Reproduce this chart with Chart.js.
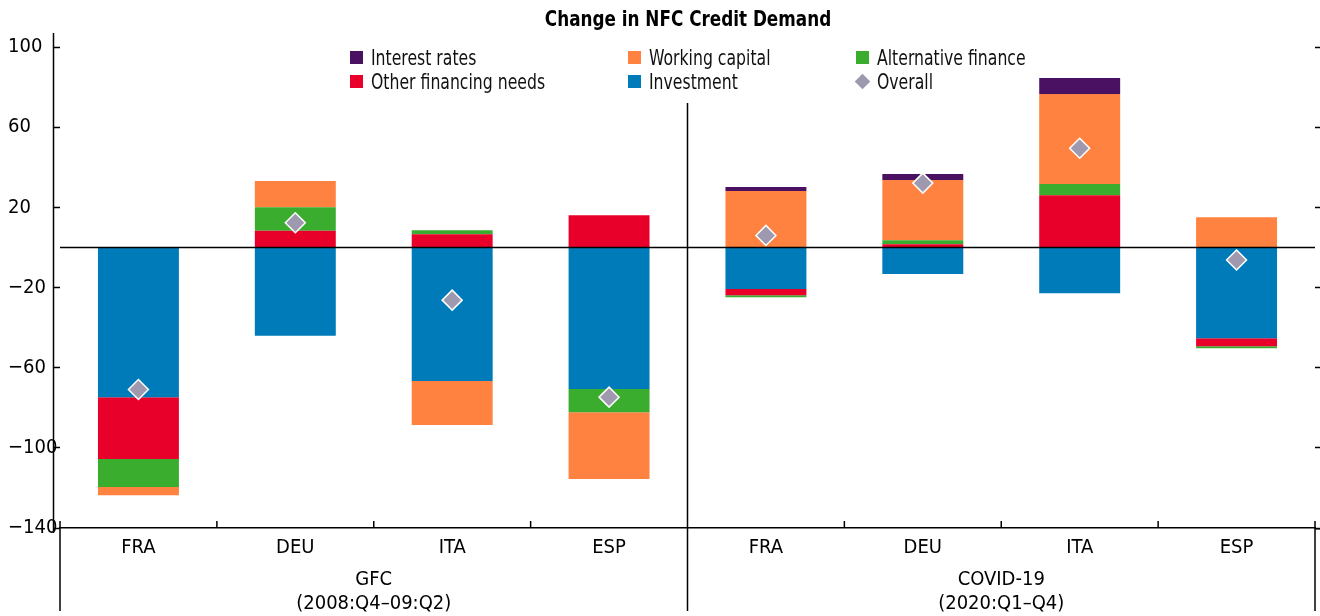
<!DOCTYPE html>
<html>
<head>
<meta charset="utf-8">
<script src="https://cdn.jsdelivr.net/npm/chart.js@4.4.1/dist/chart.umd.min.js"></script>
<style>
  html, body { margin: 0; padding: 0; background: #fff; }
  #wrap { position: relative; width: 1320px; height: 616px; overflow: hidden; }
  canvas { position: absolute; left: 0; top: 0; }
  .lg { position: absolute; font-family: "DejaVu Sans Condensed", "DejaVu Sans", sans-serif; font-stretch: condensed; font-size: 21px; color: #111; white-space: nowrap; line-height: 24px; height: 24px; }
  .lg .box { position: absolute; left: 0; top: 5px; width: 13px; height: 13px; }
  .lg .dia { position: absolute; left: 1px; top: 6px; width: 11px; height: 11px; transform: rotate(45deg); }
  .lg span.t { position: absolute; left: 21px; top: 0; transform: scaleX(0.83); transform-origin: 0 50%; }
  #title { position: absolute; top: 7px; font-family: "DejaVu Sans Condensed", "DejaVu Sans", sans-serif; font-stretch: condensed; font-weight: bold; font-size: 22px; line-height: 24px; color: #000; white-space: nowrap; transform: translateX(-50%) scaleX(0.85); transform-origin: 50% 50%; }
</style>
</head>
<body>
<div id="wrap">
  <canvas id="c" width="1320" height="616"></canvas>
  <div id="title">Change in NFC Credit Demand</div>
  <div id="legend"></div>
</div>
<script>
// ---- data ----
const categories = ['FRA', 'DEU', 'ITA', 'ESP', 'FRA', 'DEU', 'ITA', 'ESP'];
const groupLabels = [['GFC', '(2008:Q4\u201309:Q2)'], ['COVID-19', '(2020:Q1\u2013Q4)']];
const yTicks = [-140, -100, -60, -20, 20, 60, 100];

const investment      = [-74.7, -44.1, -66.7, -70.7, -20.8, -13.3, -22.8, -45.3];
const otherFinancing  = [-30.9,   8.3,   6.6,  16.1,  -3.0,   1.6,  26.1,  -4.0];
const alternativeFin  = [-14.0,  11.8,   2.0, -11.5,  -1.0,   2.0,   5.5,  -1.0];
const workingCapital  = [ -4.0,  13.0, -21.9, -33.4,  28.1,  30.0,  44.9,  15.1];
const interestRates   = [  0.0,   0.0,   0.0,   0.0,   2.0,   3.0,   8.0,   0.0];
const overall         = [-70.9,  12.3, -26.3, -74.7,   6.0,  32.1,  49.5,  -6.3];

const COLORS = {
  interest: '#4a1163',
  other: '#e8002b',
  working: '#ff8240',
  investment: '#007bba',
  alternative: '#3aad2e',
  overall: '#9e99ae'
};
const FONT = '"DejaVu Sans Condensed", "DejaVu Sans", sans-serif';

// ---- legend (HTML, 3 columns x 2 rows) ----
const legendItems = [
  { label: 'Interest rates', color: COLORS.interest, col: 0, row: 0 },
  { label: 'Other financing needs', color: COLORS.other, col: 0, row: 1 },
  { label: 'Working capital', color: COLORS.working, col: 1, row: 0 },
  { label: 'Investment', color: COLORS.investment, col: 1, row: 1 },
  { label: 'Alternative finance', color: COLORS.alternative, col: 2, row: 0 },
  { label: 'Overall', color: COLORS.overall, col: 2, row: 1, diamond: true }
];
const colX = [350, 628, 856];
const rowY = [46, 70];
const legendEl = document.getElementById('legend');
legendItems.forEach(it => {
  const d = document.createElement('div');
  d.className = 'lg';
  d.style.left = colX[it.col] + 'px';
  d.style.top = rowY[it.row] + 'px';
  const m = document.createElement('div');
  m.className = it.diamond ? 'dia' : 'box';
  m.style.background = it.color;
  d.appendChild(m);
  const t = document.createElement('span');
  t.className = 't';
  t.textContent = it.label;
  d.appendChild(t);
  legendEl.appendChild(d);
});

// ---- decorations drawn from the scales ----
const framePlugin = {
  id: 'frame',
  afterDatasetsDraw(chart) {
    const { ctx, chartArea, scales } = chart;
    const y = scales.y;
    ctx.save();
    ctx.strokeStyle = '#000';
    ctx.lineWidth = 1.5;
    const y0 = y.getPixelForValue(0);
    ctx.beginPath();
    ctx.moveTo(chartArea.left, y0);
    ctx.lineTo(chartArea.right, y0);
    ctx.stroke();
    ctx.restore();
  },
  afterDraw(chart) {
    const { ctx, chartArea, scales } = chart;
    const x = scales.x;
    ctx.save();
    ctx.strokeStyle = '#000';
    ctx.lineWidth = 1.5;
    const lx = chartArea.left - 6.5;
    ctx.beginPath();
    ctx.moveTo(lx, chartArea.top);
    ctx.lineTo(lx, chartArea.bottom + 5);
    ctx.stroke();
    // x-axis line continues to the right edge
    ctx.beginPath();
    ctx.moveTo(chartArea.right, chartArea.bottom + 0.75);
    ctx.lineTo(chart.width, chartArea.bottom + 0.75);
    ctx.stroke();
    const n = categories.length;
    const half = (x.getPixelForValue(1) - x.getPixelForValue(0)) / 2;
    const bottom = chart.height - 5;
    for (let i = 0; i <= n; i++) {
      const bx = i === 0 ? chartArea.left : (i === n ? chartArea.right : x.getPixelForValue(i) - half);
      ctx.beginPath();
      if (i === 0 || i === n) {
        ctx.moveTo(bx, chartArea.bottom - 7);
        ctx.lineTo(bx, bottom);
      } else if (i === n / 2) {
        ctx.moveTo(bx, 103);
        ctx.lineTo(bx, bottom);
      } else {
        ctx.moveTo(bx, chartArea.bottom - 7);
        ctx.lineTo(bx, chartArea.bottom);
      }
      ctx.stroke();
    }
    ctx.restore();
  }
};

const tickList = (scale) => { scale.ticks = yTicks.map(v => ({ value: v })); };
const fmt = (v) => (v < 0 ? '\u2212' + Math.abs(v) : String(v));

const barDs = (label, data, color) => ({
  type: 'bar', label, data, backgroundColor: color, borderWidth: 0,
  categoryPercentage: 1, barPercentage: 0.516
});

const chart = new Chart(document.getElementById('c'), {
  data: {
    labels: categories,
    datasets: [
      {
        type: 'line', label: 'Overall', data: overall, showLine: false, order: -1,
        pointStyle: 'rectRot', pointRadius: 10, pointHoverRadius: 10,
        backgroundColor: COLORS.overall, borderColor: '#fff', pointBorderWidth: 1.5
      },
      barDs('Investment', investment, COLORS.investment),
      barDs('Other financing needs', otherFinancing, COLORS.other),
      barDs('Alternative finance', alternativeFin, COLORS.alternative),
      barDs('Working capital', workingCapital, COLORS.working),
      barDs('Interest rates', interestRates, COLORS.interest)
    ]
  },
  options: {
    responsive: false,
    animation: false,
    devicePixelRatio: 1,
    layout: { autoPadding: false, padding: { left: 8, right: 0, top: 33, bottom: 0 } },
    plugins: {
      legend: { display: false },
      tooltip: { enabled: false },
      title: { display: false }
    },
    scales: {
      x: {
        type: 'category', stacked: true, position: 'bottom',
        afterFit: (s) => { s.height = 32; },
        grid: { display: false, drawTicks: false },
        border: { display: true, color: '#000', width: 1.5 },
        ticks: { color: '#000', font: { family: FONT, size: 20 }, padding: 8, maxRotation: 0 }
      },
      x2: {
        type: 'category', labels: groupLabels, position: 'bottom', offset: true,
        afterFit: (s) => { s.height = 56; },
        grid: { display: false, drawTicks: false },
        border: { display: false },
        ticks: { color: '#000', font: { family: FONT, size: 20, lineHeight: 1.2 }, padding: 8, maxRotation: 0 }
      },
      y: {
        type: 'linear', stacked: true, position: 'left', min: -140, max: 107,
        afterBuildTicks: tickList,
        afterFit: (s) => { s.width = 52; },
        grid: { drawOnChartArea: false, drawTicks: true, tickLength: 6, tickColor: '#000', tickWidth: 1.5 },
        border: { display: false },
        ticks: { color: '#000', font: { family: FONT, size: 20 }, padding: 4, crossAlign: 'far', callback: fmt }
      },
      y2: {
        type: 'linear', position: 'right', min: -140, max: 107,
        afterBuildTicks: tickList,
        afterFit: (s) => { s.width = 5; },
        grid: { drawOnChartArea: false, drawTicks: true, tickLength: 6, tickColor: '#000', tickWidth: 1.5 },
        border: { display: false },
        ticks: { display: false }
      }
    }
  },
  plugins: [framePlugin]
});

const ca = chart.chartArea;
document.getElementById('title').style.left = ((ca.left + ca.right) / 2) + 'px';
</script>
</body>
</html>
